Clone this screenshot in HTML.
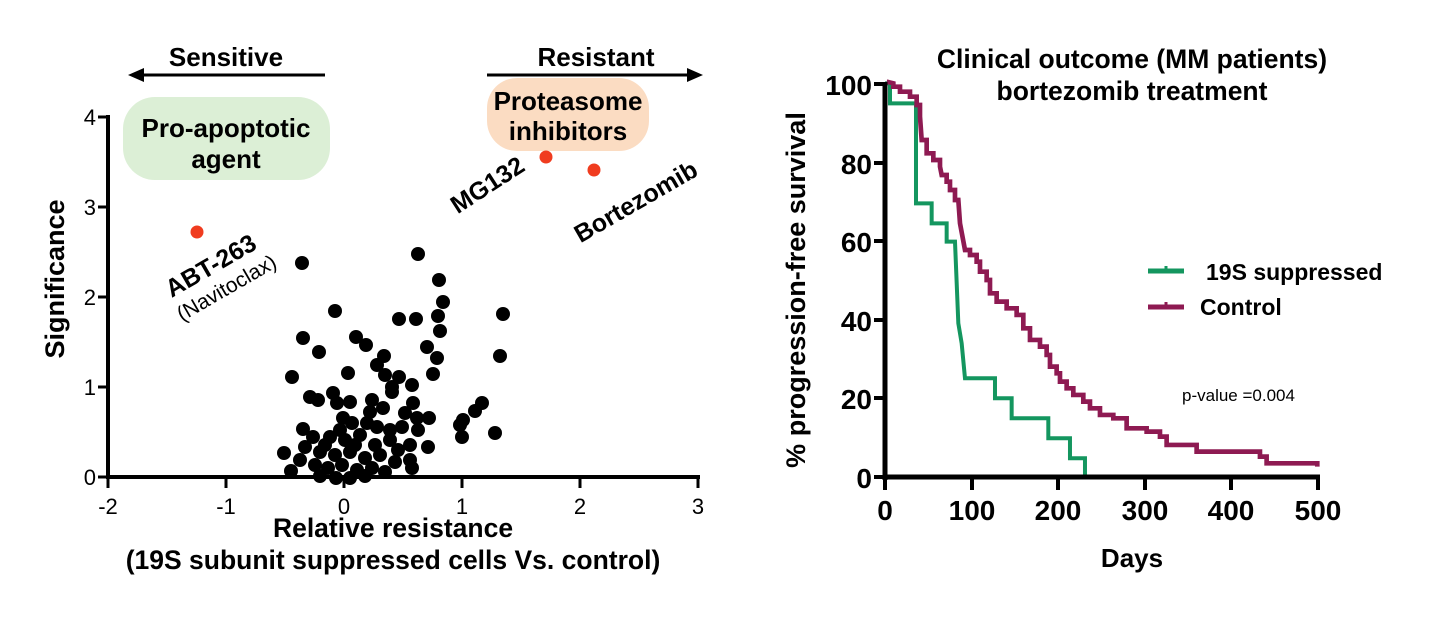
<!DOCTYPE html>
<html><head><meta charset="utf-8"><style>
html,body{margin:0;padding:0;background:#fff;}
svg{display:block;font-family:"Liberation Sans",Arial,sans-serif;}
.b{font-weight:bold;}
</style></head><body>
<svg width="1440" height="626" viewBox="0 0 1440 626" xmlns="http://www.w3.org/2000/svg">
<!-- LEFT PANEL -->
<rect x="123" y="97" width="207" height="83" rx="32" fill="#dcefd6"/>
<rect x="487" y="78" width="162" height="73" rx="30" fill="#fbdcc2"/>
<text x="226" y="66" class="b" font-size="26" text-anchor="middle">Sensitive</text>
<text x="596" y="66" class="b" font-size="26" text-anchor="middle">Resistant</text>
<line x1="140" y1="75" x2="325" y2="75" stroke="#000" stroke-width="3"/>
<polygon points="128,75 144,68 144,82" fill="#000"/>
<line x1="487" y1="75" x2="690" y2="75" stroke="#000" stroke-width="3"/>
<polygon points="703,75 687,68 687,82" fill="#000"/>
<text x="226" y="137" class="b" font-size="26" text-anchor="middle">Pro-apoptotic</text>
<text x="226" y="168" class="b" font-size="26" text-anchor="middle">agent</text>
<text x="568" y="110" class="b" font-size="26" text-anchor="middle">Proteasome</text>
<text x="568" y="140" class="b" font-size="26" text-anchor="middle">inhibitors</text>
<text transform="translate(215,273) rotate(-30)" class="b" font-size="25" text-anchor="middle">ABT-263</text>
<text transform="translate(230,294) rotate(-30)" font-size="21" text-anchor="middle" font-weight="300">(Navitoclax)</text>
<text transform="translate(492,192) rotate(-33)" class="b" font-size="25" text-anchor="middle">MG132</text>
<text transform="translate(640,209) rotate(-30)" class="b" font-size="25" text-anchor="middle">Bortezomib</text>
<g fill="#f03c1f">
<circle cx="197" cy="232" r="6.5"/><circle cx="546" cy="157" r="6.5"/><circle cx="594" cy="170" r="6.5"/>
</g>
<g fill="#000">
<circle cx="302" cy="263" r="7"/><circle cx="418" cy="254" r="7"/><circle cx="439" cy="280" r="7"/>
<circle cx="443" cy="302" r="7"/><circle cx="335" cy="311" r="7"/><circle cx="399" cy="319" r="7"/>
<circle cx="416" cy="319" r="7"/><circle cx="438" cy="316" r="7"/><circle cx="440" cy="331" r="7"/>
<circle cx="503" cy="314" r="7"/><circle cx="303" cy="338" r="7"/><circle cx="356" cy="337" r="7"/>
<circle cx="366" cy="345" r="7"/><circle cx="319" cy="352" r="7"/><circle cx="427" cy="347" r="7"/>
<circle cx="437" cy="358" r="7"/><circle cx="500" cy="356" r="7"/><circle cx="384" cy="356" r="7"/>
<circle cx="377" cy="365" r="7"/><circle cx="292" cy="377" r="7"/><circle cx="348" cy="373" r="7"/>
<circle cx="385" cy="375" r="7"/><circle cx="433" cy="374" r="7"/><circle cx="399" cy="377" r="7"/>
<circle cx="392" cy="387" r="7"/><circle cx="412" cy="385" r="7"/><circle cx="392" cy="392" r="7"/>
<circle cx="310" cy="397" r="7"/><circle cx="318" cy="400" r="7"/><circle cx="333" cy="393" r="7"/>
<circle cx="337" cy="403" r="7"/><circle cx="350" cy="402" r="7"/><circle cx="413" cy="403" r="7"/>
<circle cx="370" cy="412" r="7"/><circle cx="383" cy="408" r="7"/><circle cx="405" cy="413" r="7"/>
<circle cx="417" cy="418" r="7"/><circle cx="429" cy="418" r="7"/><circle cx="463" cy="420" r="7"/>
<circle cx="482" cy="403" r="7"/><circle cx="475" cy="411" r="7"/><circle cx="460" cy="425" r="7"/>
<circle cx="462" cy="437" r="7"/><circle cx="495" cy="433" r="7"/><circle cx="303" cy="429" r="7"/>
<circle cx="352" cy="423" r="7"/><circle cx="367" cy="423" r="7"/><circle cx="377" cy="427" r="7"/>
<circle cx="402" cy="427" r="7"/><circle cx="428" cy="447" r="7"/><circle cx="284" cy="453" r="7"/>
<circle cx="291" cy="471" r="7"/><circle cx="313" cy="437" r="7"/><circle cx="330" cy="437" r="7"/>
<circle cx="345" cy="440" r="7"/><circle cx="360" cy="435" r="7"/><circle cx="375" cy="445" r="7"/>
<circle cx="390" cy="440" r="7"/><circle cx="398" cy="450" r="7"/><circle cx="410" cy="445" r="7"/>
<circle cx="305" cy="447" r="7"/><circle cx="320" cy="452" r="7"/><circle cx="335" cy="455" r="7"/>
<circle cx="350" cy="452" r="7"/><circle cx="365" cy="458" r="7"/><circle cx="380" cy="455" r="7"/>
<circle cx="395" cy="462" r="7"/><circle cx="410" cy="460" r="7"/><circle cx="412" cy="468" r="7"/>
<circle cx="315" cy="465" r="7"/><circle cx="328" cy="468" r="7"/><circle cx="342" cy="465" r="7"/>
<circle cx="357" cy="470" r="7"/><circle cx="372" cy="468" r="7"/><circle cx="385" cy="472" r="7"/>
<circle cx="320" cy="476" r="7"/><circle cx="336" cy="478" r="7"/><circle cx="350" cy="478" r="7"/>
<circle cx="365" cy="476" r="7"/><circle cx="300" cy="460" r="7"/><circle cx="340" cy="430" r="7"/>
<circle cx="355" cy="445" r="7"/><circle cx="325" cy="445" r="7"/><circle cx="390" cy="430" r="7"/>
<circle cx="418" cy="430" r="7"/><circle cx="343" cy="418" r="7"/><circle cx="372" cy="400" r="7"/>
</g>
<line x1="108" y1="115" x2="108" y2="479" stroke="#000" stroke-width="4"/>
<line x1="106" y1="477" x2="700" y2="477" stroke="#000" stroke-width="4"/>
<g stroke="#000" stroke-width="3">
<line x1="98" y1="117" x2="108" y2="117"/><line x1="98" y1="207" x2="108" y2="207"/>
<line x1="98" y1="297" x2="108" y2="297"/><line x1="98" y1="387" x2="108" y2="387"/>
<line x1="98" y1="477" x2="108" y2="477"/>
<line x1="108" y1="477" x2="108" y2="488"/><line x1="226" y1="477" x2="226" y2="488"/>
<line x1="344" y1="477" x2="344" y2="488"/><line x1="462" y1="477" x2="462" y2="488"/>
<line x1="580" y1="477" x2="580" y2="488"/><line x1="698" y1="477" x2="698" y2="488"/>
</g>
<g font-size="22" text-anchor="end">
<text x="96" y="125">4</text><text x="96" y="215">3</text><text x="96" y="305">2</text>
<text x="96" y="395">1</text><text x="96" y="485">0</text>
</g>
<g font-size="22" text-anchor="middle">
<text x="108" y="514">-2</text><text x="226" y="514">-1</text><text x="344" y="514">0</text>
<text x="462" y="514">1</text><text x="580" y="514">2</text><text x="698" y="514">3</text>
</g>
<text x="393" y="537" class="b" font-size="26.5" text-anchor="middle">Relative resistance</text>
<text x="393" y="569" class="b" font-size="26.5" text-anchor="middle">(19S subunit suppressed cells Vs. control)</text>
<text transform="translate(64,279) rotate(-90)" class="b" font-size="27" text-anchor="middle">Significance</text>

<!-- RIGHT PANEL -->
<text x="1132" y="68" class="b" font-size="26.5" text-anchor="middle">Clinical outcome (MM patients)</text>
<text x="1132" y="100" class="b" font-size="26.5" text-anchor="middle">bortezomib treatment</text>
<g transform="translate(880,80) scale(0.3333)" fill="none" stroke-width="12" stroke-linejoin="miter">
<polyline stroke="#14965f" points="15,10 30,10 30,70 108,70 108,370 155,370 155,430 200,430 200,485 225,485 235,730 245,790 255,895 345,895 345,955 395,955 395,1015 505,1015 505,1075 570,1075 570,1135 615,1135 615,1195"/>
<polyline stroke="#8e1a52" stroke-width="14" points="20,5 40,10 40,20 60,20 60,35 90,35 90,50 110,50 110,75 120,75 120,110 125,180 140,180 140,220 160,220 160,240 180,240 180,260 185,285 200,285 200,305 210,305 210,330 225,330 225,360 235,360 240,430 255,510 270,510 270,525 290,525 290,545 300,545 300,575 320,575 320,600 330,600 330,640 350,640 350,665 380,665 380,685 410,685 410,705 430,705 430,745 450,745 450,780 480,780 480,800 500,800 500,825 510,825 510,860 530,860 530,880 540,880 540,905 560,905 560,925 580,925 580,945 610,945 610,965 630,965 630,985 660,985 660,1005 700,1005 700,1015 740,1015 740,1045 800,1045 800,1055 840,1055 840,1070 860,1070 860,1095 950,1095 950,1115 1140,1115 1140,1130 1160,1130 1160,1150 1312,1150 1312,1160"/>
</g>
<line x1="885" y1="82" x2="885" y2="480" stroke="#000" stroke-width="5"/>
<line x1="883" y1="477" x2="1320" y2="477" stroke="#000" stroke-width="5"/>
<g stroke="#000" stroke-width="4">
<line x1="874" y1="84" x2="885" y2="84"/><line x1="874" y1="163" x2="885" y2="163"/>
<line x1="874" y1="241" x2="885" y2="241"/><line x1="874" y1="320" x2="885" y2="320"/>
<line x1="874" y1="398" x2="885" y2="398"/><line x1="874" y1="477" x2="885" y2="477"/>
<line x1="885" y1="477" x2="885" y2="490"/><line x1="972" y1="477" x2="972" y2="490"/>
<line x1="1058" y1="477" x2="1058" y2="490"/><line x1="1145" y1="477" x2="1145" y2="490"/>
<line x1="1231" y1="477" x2="1231" y2="490"/><line x1="1318" y1="477" x2="1318" y2="490"/>
</g>
<g class="b" font-size="28" text-anchor="end">
<text x="872" y="95">100</text><text x="872" y="174">80</text><text x="872" y="252">60</text>
<text x="872" y="331">40</text><text x="872" y="409">20</text><text x="872" y="488">0</text>
</g>
<g class="b" font-size="28" text-anchor="middle">
<text x="885" y="520">0</text><text x="972" y="520">100</text><text x="1058" y="520">200</text>
<text x="1145" y="520">300</text><text x="1231" y="520">400</text><text x="1318" y="520">500</text>
</g>
<text x="1132" y="567" class="b" font-size="26" text-anchor="middle">Days</text>
<text transform="translate(805,290) rotate(-90)" class="b" font-size="27" text-anchor="middle">% progression-free survival</text>
<line x1="1148" y1="271" x2="1184" y2="271" stroke="#14965f" stroke-width="5"/>
<line x1="1166" y1="266" x2="1166" y2="271" stroke="#14965f" stroke-width="3"/>
<line x1="1148" y1="307" x2="1184" y2="307" stroke="#8e1a52" stroke-width="5"/>
<line x1="1166" y1="302" x2="1166" y2="307" stroke="#8e1a52" stroke-width="3"/>
<text x="1206" y="280" class="b" font-size="23">19S suppressed</text>
<text x="1200" y="315" class="b" font-size="23">Control</text>
<text x="1182" y="401" font-size="17">p-value =0.004</text>
</svg>
</body></html>
